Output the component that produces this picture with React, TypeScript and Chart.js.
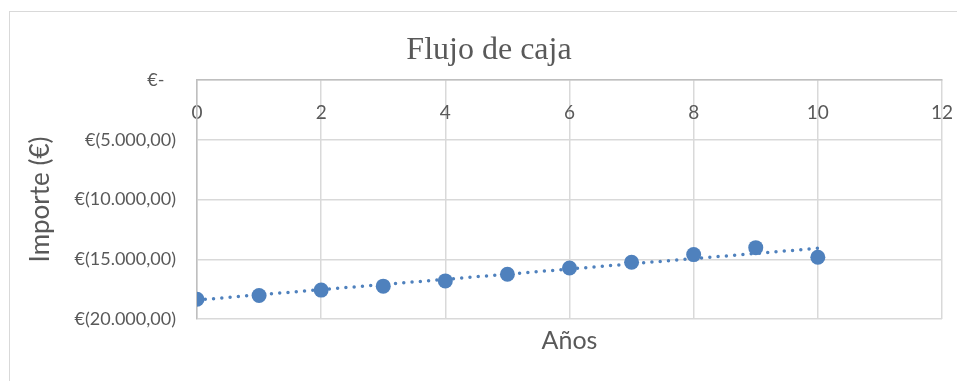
import React, { useEffect, useRef } from 'react';
import { Chart, registerables } from 'chart.js';

Chart.register(...registerables);

// Cash flow per year (EUR, negative = outflow)
const years = [0, 1, 2, 3, 4, 5, 6, 7, 8, 9, 10];
const cashFlow = [-18350, -18030, -17580, -17250, -16810, -16250, -15730, -15250, -14610, -14030, -14830];

const yMin = -20000;
const yMax = 0;
const yStep = 5000;
const xMin = 0;
const xMax = 12;
const xStep = 2;

const chartTitle = 'Flujo de caja';
const xTitle = 'Años';
const yTitle = 'Importe (€)';

const BLUE = '#4F81BD';
const TEXT = '#595959';
const GRID = '#d9d9d9';
const AXIS = '#bfbfbf';
const SANS = 'Lato, "Noto Sans", sans-serif';

// Accounting style: €(5.000,00) for negatives, €- for zero
function formatEuro(v: number): string {
  if (v === 0) return '€-\u2007\u200A';
  const abs = Math.abs(v);
  const intPart = Math.floor(abs).toString().replace(/\B(?=(\d{3})+(?!\d))/g, '.');
  const dec = Math.round((abs - Math.floor(abs)) * 100).toString().padStart(2, '0');
  const body = `${intPart},${dec}`;
  return v < 0 ? `€(${body})` : `€${body} `;
}

// Least-squares linear trend over the yearly values
function linearTrend(xs: number[], ys: number[]) {
  const n = xs.length;
  const mx = xs.reduce((a, b) => a + b, 0) / n;
  const my = ys.reduce((a, b) => a + b, 0) / n;
  let sxy = 0;
  let sxx = 0;
  for (let i = 0; i < n; i++) {
    sxy += (xs[i] - mx) * (ys[i] - my);
    sxx += (xs[i] - mx) * (xs[i] - mx);
  }
  const slope = sxy / sxx;
  const intercept = my - slope * mx;
  const x0 = Math.min(...xs);
  const x1 = Math.max(...xs);
  return [
    { x: x0, y: intercept + slope * x0 },
    { x: x1, y: intercept + slope * x1 },
  ];
}

export default function App() {
  const canvasRef = useRef<HTMLCanvasElement | null>(null);

  useEffect(() => {
    const canvas = canvasRef.current;
    if (!canvas) return;

    const points = years.map((x, i) => ({ x, y: cashFlow[i] }));
    const trend = linearTrend(years, cashFlow);

    const chart = new Chart(canvas, {
      type: 'scatter',
      data: {
        datasets: [
          {
            label: 'Flujo de caja',
            data: points,
            backgroundColor: BLUE,
            borderColor: BLUE,
            borderWidth: 0,
            pointRadius: 7.5,
            pointHoverRadius: 7.5,
            order: 1,
          },
          {
            type: 'line',
            label: 'Tendencia',
            data: trend,
            borderColor: BLUE,
            borderWidth: 3.5,
            borderDash: [0, 8.3],
            borderCapStyle: 'round',
            pointRadius: 0,
            pointHoverRadius: 0,
            showLine: true,
            fill: false,
            order: 2,
          } as any,
        ],
      },
      options: {
        animation: false,
        responsive: false,
        maintainAspectRatio: false,
        events: [],
        layout: { padding: { left: 26, right: 28, top: 19, bottom: 0 } },
        plugins: {
          legend: { display: false },
          tooltip: { enabled: false },
          title: {
            display: true,
            text: chartTitle,
            color: TEXT,
            font: { family: '"Liberation Serif", "Times New Roman", serif', size: 32, weight: 'normal', lineHeight: 1.2 },
            padding: { top: 0, bottom: 10.6 },
          },
        },
        scales: {
          x: {
            type: 'linear',
            position: { y: 0 } as any,
            min: xMin,
            max: xMax,
            ticks: {
              stepSize: xStep,
              color: TEXT,
              font: { family: SANS, size: 19 },
              padding: 21,
            },
            grid: { color: GRID, lineWidth: 1.5, drawTicks: false },
            border: { color: AXIS, width: 1.5 },
            afterFit: (scale: any) => {
              // the end labels may overhang the plot area
              scale.paddingLeft = 0;
              scale.paddingRight = 0;
            },
          },
          x2: {
            type: 'linear',
            position: 'bottom',
            min: xMin,
            max: xMax,
            ticks: { display: false },
            grid: { display: false, drawTicks: false },
            border: { display: false },
            title: {
              display: true,
              text: xTitle,
              color: TEXT,
              font: { family: SANS, size: 25, lineHeight: 1.2 },
              padding: { top: 7, bottom: 26 },
            },
          },
          y: {
            type: 'linear',
            position: 'left',
            min: yMin,
            max: yMax,
            ticks: {
              stepSize: yStep,
              color: TEXT,
              font: { family: SANS, size: 18 },
              padding: 21,
              callback: (v: any) => formatEuro(Number(v)),
            },
            grid: { color: GRID, lineWidth: 1.5, drawTicks: false },
            border: { color: AXIS, width: 1.5 },
            title: {
              display: true,
              text: yTitle,
              color: TEXT,
              font: { family: SANS, size: 26, lineHeight: 1.2 },
              padding: { top: -10.6, bottom: 0 },
            },
            afterFit: (scale: any) => {
              scale.width = 161;
            },
          },
        },
      } as any,
    });

    return () => chart.destroy();
  }, []);

  return (
    <div style={{ position: 'fixed', inset: 0, overflow: 'hidden', background: '#ffffff' }}>
      <div
        style={{
          position: 'absolute',
          left: 9,
          top: 11,
          width: 960,
          height: 370,
          border: `1px solid ${GRID}`,
        }}
      >
        <canvas ref={canvasRef} width={960} height={370} style={{ display: 'block' }} />
      </div>
    </div>
  );
}
